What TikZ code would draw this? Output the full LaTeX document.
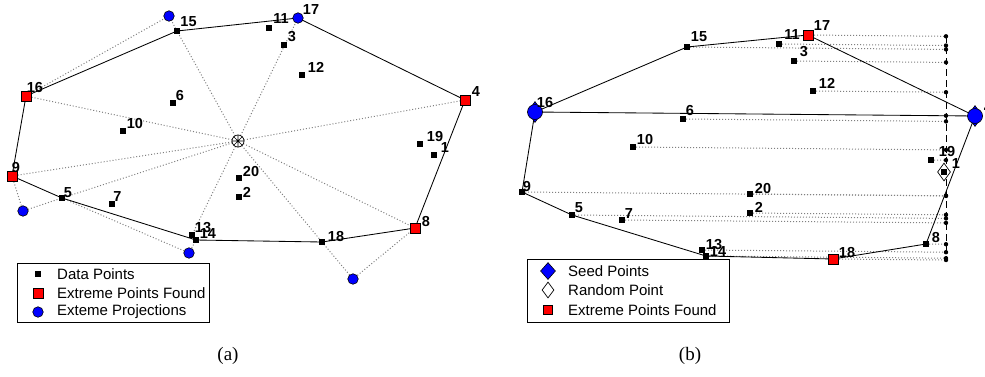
\documentclass[tikz,border=0pt]{standalone}
\usepackage{fontspec}
\setmainfont{Liberation Sans}
\newfontfamily\capfont{Liberation Serif}
\usetikzlibrary{shapes.geometric}
\begin{document}
\begin{tikzpicture}[x=1pt,y=-1pt,
  dp/.style={rectangle, fill=black, minimum size=5.8pt, inner sep=0pt},
  ep/.style={rectangle, fill=red, draw=black, line width=0.6pt, minimum size=10pt, inner sep=0pt},
  bc/.style={circle, fill=blue, draw=black, line width=0.6pt, minimum size=10.5pt, inner sep=0pt},
  seedmark/.style={diamond, fill=blue, draw=black, line width=0.6pt, minimum width=15pt, minimum height=21pt, inner sep=0pt},
  seedcirc/.style={circle, fill=blue, draw=black, line width=0.6pt, minimum size=15pt, inner sep=0pt},
  rndmark/.style={diamond, fill=white, draw=black, line width=0.7pt, minimum width=13pt, minimum height=18pt, inner sep=0pt},
  vdot/.style={circle, fill=black, minimum size=4.4pt, inner sep=0pt},
  hull/.style={line width=0.85pt, black},
  dotl/.style={gray, line width=1pt, dash pattern=on 1pt off 2pt},
  vdash/.style={black, line width=0.9pt, dash pattern=on 7pt off 4pt},
  lab/.style={font=\fontsize{14.5}{14.5}\selectfont\bfseries, inner sep=0pt},
  legtxt/.style={font=\fontsize{15}{15}\selectfont, anchor=west, inner sep=0pt},
  legbox/.style={draw=black, fill=white, line width=0.8pt},
  captxt/.style={font=\capfont\fontsize{19}{19}\selectfont, inner sep=0pt}]
\useasboundingbox (0,0) rectangle (985,376);

% ================= Panel (a) =================
\coordinate (a1) at (434,155);
\coordinate (a2) at (239,197);
\coordinate (a3) at (284,45);
\coordinate (a4) at (465,100);
\coordinate (a5) at (62,198);
\coordinate (a6) at (173,103);
\coordinate (a7) at (112,204);
\coordinate (a8) at (415,228);
\coordinate (a9) at (12,176);
\coordinate (a10) at (123,131);
\coordinate (a11) at (269,28);
\coordinate (a12) at (302,75);
\coordinate (a13) at (192,235);
\coordinate (a14) at (196,240);
\coordinate (a15) at (177,31);
\coordinate (a16) at (26,96);
\coordinate (a17) at (298,18);
\coordinate (a18) at (322,242);
\coordinate (a19) at (420,144);
\coordinate (a20) at (239,178);
\coordinate (b1) at (169,16);
\coordinate (b2) at (23,211);
\coordinate (b3) at (189,253);
\coordinate (b4) at (353,279);
\coordinate (ctr) at (238,141);

% dotted rays and projection triangles
\foreach \t in {a15,a16,a9,a5,a13,a18,a8,a4,a17}
  \draw[dotl] (ctr) -- (\t);
\draw[dotl] (a16) -- (b1) -- (a15);
\draw[dotl] (a9) -- (b2) -- (a5);
\draw[dotl] (a5) -- (b3) -- (a14);
\draw[dotl] (a18) -- (b4) -- (a8);

% hull
\draw[hull] (a16) -- (a15) -- (a17) -- (a4) -- (a8) -- (a18) -- (a14) -- (a5) -- (a9) -- cycle;

% markers
\foreach \p in {a1,a2,a3,a5,a6,a7,a10,a11,a12,a13,a14,a15,a18,a19,a20}
  \node[dp] (m\p) at (\p) {};
\foreach \p in {a16,a9,a4,a8}
  \node[ep] (m\p) at (\p) {};
\foreach \p in {b1,b2,b3,b4,a17}
  \node[bc] (m\p) at (\p) {};
\node[circle, draw=black, fill=white, line width=0.7pt, minimum size=12pt, inner sep=0pt] (mctr) at (ctr) {};
\draw[line width=0.6pt] (mctr.north) -- (mctr.south) (mctr.east) -- (mctr.west)
  (mctr.45) -- (mctr.225) (mctr.135) -- (mctr.315);

% labels
\node[lab] (la15) at (188.5,22) {15};
\node[lab] (la16) at (35,88) {16};
\node[lab] (la6) at (180,96) {6};
\node[lab] (la10) at (135,124) {10};
\node[lab] (la9) at (16,168) {9};
\node[lab] (la11) at (281,19) {11};
\node[lab] (la17) at (311,10) {17};
\node[lab] (la3) at (292,37) {3};
\node[lab] (la12) at (316,67) {12};
\node[lab] (la4) at (476,92) {4};
\node[lab] (la19) at (435,137) {19};
\node[lab] (la1) at (445,148) {1};
\node[lab] (la20) at (251,172) {20};
\node[lab] (la2) at (247,192) {2};
\node[lab] (la5) at (68,193) {5};
\node[lab] (la7) at (117.5,197) {7};
\node[lab] (la13) at (203,228) {13};
\node[lab] (la14) at (208,234) {14};
\node[lab] (la18) at (336,237) {18};
\node[lab] (la8) at (426,222) {8};

% legend (a)
\node[legbox, anchor=north west, minimum width=192pt, minimum height=59pt] (lega) at (17,263) {};
\node[dp] (lga1) at (38,274) {};
\node[legtxt] (lta1) at (57,274) {Data Points};
\node[ep] (lga2) at (38,293) {};
\node[legtxt] (lta2) at (57,293) {Extreme Points Found};
\node[bc] (lga3) at (38,312) {};
\node[legtxt] (lta3) at (57,312) {Exteme Projections};

% ================= Panel (b) =================
\coordinate (p1) at (944,172);
\coordinate (p2) at (750,213);
\coordinate (p3) at (794,61);
\coordinate (p4) at (975,116);
\coordinate (p5) at (572,215);
\coordinate (p6) at (683,119);
\coordinate (p7) at (622,220);
\coordinate (p8) at (926,244);
\coordinate (p9) at (522,192);
\coordinate (p10) at (633,147);
\coordinate (p11) at (779,44);
\coordinate (p12) at (813,91);
\coordinate (p13) at (702,250);
\coordinate (p14) at (706,256);
\coordinate (p15) at (687,47);
\coordinate (p16) at (535,112);
\coordinate (p17) at (808,35);
\coordinate (p18) at (833,259);
\coordinate (p19) at (931,160);
\coordinate (p20) at (750,194);

% projections on the dashed line
\coordinate (q17) at (946,36.3);
\coordinate (q11) at (946,45.5);
\coordinate (q15) at (946,49.4);
\coordinate (q3) at (946,62.4);
\coordinate (q12) at (946,92.2);
\coordinate (q16) at (946,115.7);
\coordinate (q6) at (946,121.4);
\coordinate (q10) at (946,149.9);
\coordinate (q19) at (946,160.1);
\coordinate (q9) at (946,195.9);
\coordinate (q20) at (946,195.8);
\coordinate (q2) at (946,214.8);
\coordinate (q5) at (946,218.4);
\coordinate (q7) at (946,222.9);
\coordinate (q8) at (946,244.2);
\coordinate (q13) at (946,252.2);
\coordinate (q14) at (946,258.2);
\coordinate (q18) at (946,260.0);

\foreach \i in {17,11,15,3,12,6,10,19,9,20,2,5,7,8,13,14,18}
  \draw[dotl] (p\i) -- (q\i);
\draw[vdash] (q17) -- (q18);

% hull
\draw[hull] (p16) -- (p4);
\draw[hull] (p16) -- (p15) -- (p17) -- (p4) -- (p8) -- (p18) -- (p14) -- (p5) -- (p9) -- cycle;

% dots on the dashed line
\foreach \i in {17,11,15,3,12,16,6,10,19,9,20,2,5,7,8,13,14,18}
  \node[vdot] (d\i) at (q\i) {};

% markers
\node[rndmark] (rp1) at (p1) {};
\foreach \p in {p1,p2,p3,p5,p6,p7,p8,p9,p10,p11,p12,p13,p14,p15,p19,p20}
  \node[dp] (m\p) at (\p) {};
\foreach \p in {p17,p18}
  \node[ep] (m\p) at (\p) {};
\foreach \p in {p16,p4} {
  \node[seedmark] (s\p) at (\p) {};
  \node[seedcirc] (m\p) at (\p) {};
}

% labels
\node[lab] (lb15) at (699,37) {15};
\node[lab] (lb16) at (545,103) {16};
\node[lab] (lb6) at (690,111) {6};
\node[lab] (lb10) at (645,140) {10};
\node[lab] (lb9) at (527,187) {9};
\node[lab] (lb11) at (792,35) {11};
\node[lab] (lb17) at (822,26) {17};
\node[lab] (lb3) at (804,52) {3};
\node[lab] (lb12) at (827,83) {12};
\node[lab] (lb4) at (988,108) {4};
\node[lab] (lb19) at (947,152) {19};
\node[lab] (lb1) at (956,164) {1};
\node[lab] (lb20) at (763,189) {20};
\node[lab] (lb2) at (759,207) {2};
\node[lab] (lb5) at (579,208) {5};
\node[lab] (lb7) at (629,214) {7};
\node[lab] (lb13) at (714,245) {13};
\node[lab] (lb14) at (718,252) {14};
\node[lab] (lb8) at (936,238) {8};
\node[lab] (lb18) at (847,253) {18};

% legend (b)
\node[legbox, anchor=north west, minimum width=202pt, minimum height=63pt] (legb) at (527,259) {};
\node[seedmark, minimum width=15pt, minimum height=17pt] (lgb1) at (548,271) {};
\node[legtxt] (ltb1) at (568,271) {Seed Points};
\node[rndmark, minimum width=12pt, minimum height=16pt] (lgb2) at (548,290) {};
\node[legtxt] (ltb2) at (568,290) {Random Point};
\node[ep, minimum size=9pt] (lgb3) at (548,310) {};
\node[legtxt] (ltb3) at (568,310) {Extreme Points Found};

% captions
\node[captxt] (capa) at (228,356) {(a)};
\node[captxt] (capb) at (690,356) {(b)};
\end{tikzpicture}
\end{document}
